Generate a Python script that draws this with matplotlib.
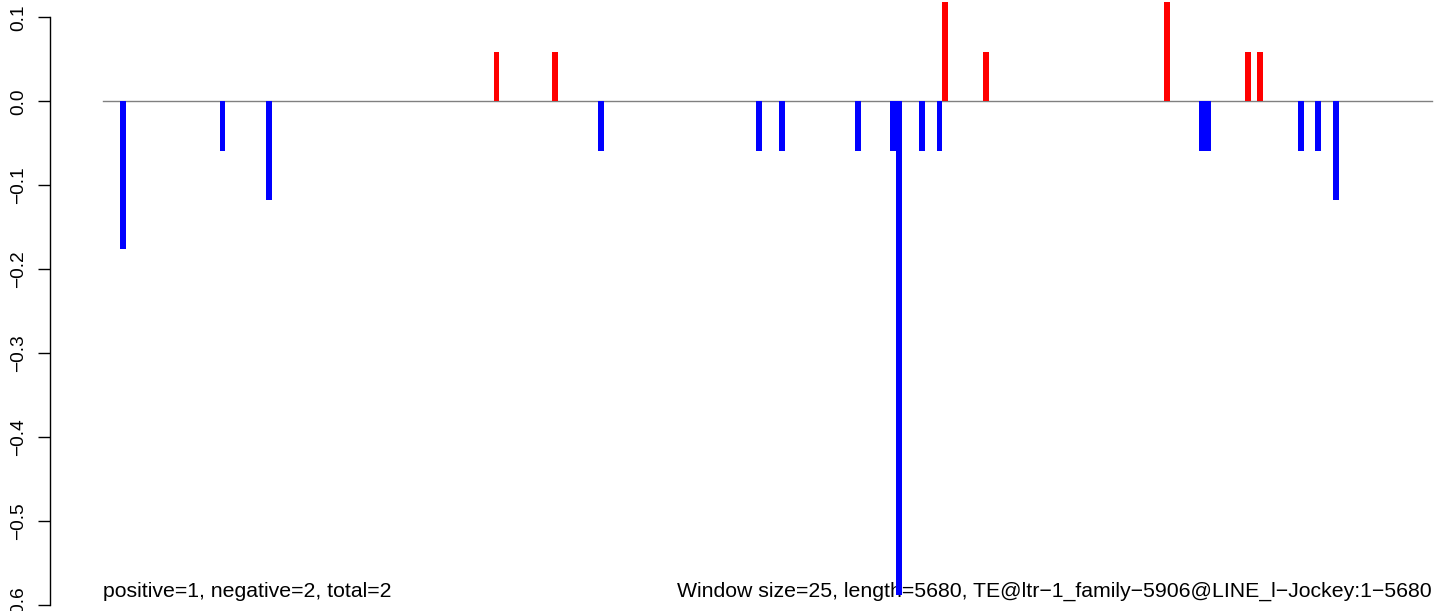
import numpy as np
import matplotlib.pyplot as plt

plt.rcParams['font.family'] = ['Liberation Sans', 'DejaVu Sans']

# 5680 bp in windows of 25 -> 228 windows
n_windows = 228
hit_windows = [3, 20, 28, 67, 77, 85, 112, 116, 129, 135, 136, 140,
               143, 144, 151, 182, 188, 189, 196, 198, 205, 208, 211]
hit_values = [-0.176, -0.059, -0.118, 0.059, 0.059, -0.059, -0.059, -0.059,
              -0.059, -0.059, -0.588, -0.059, -0.059, 0.118, 0.059, 0.118,
              -0.059, -0.059, 0.059, 0.059, -0.059, -0.059, -0.118]
y_ticks = [0.1, 0.0, -0.1, -0.2, -0.3, -0.4, -0.5, -0.6]
left_note = 'positive=1, negative=2, total=2'
right_note = 'Window size=25, length=5680, TE@ltr\u22121_family\u22125906@LINE_l\u2212Jockey:1\u22125680'

values = np.zeros(n_windows)
values[hit_windows] = hit_values
colors = ['red' if v > 0 else 'blue' for v in values]

W, H, dpi = 1444, 611, 100
fig = plt.figure(figsize=(W / dpi, H / dpi), dpi=dpi)
ax = fig.add_axes([50 / W, 0, 1 - 50 / W, 1])

pitch = 1329 / n_windows
ax.set_xlim(-53 / pitch, (W - 103) / pitch)
ax.set_ylim(-(611 - 101.4) / 839.3, 101.4 / 839.3)

ax.text(0, -0.5835, left_note, ha='left', va='center', fontsize=15.3, zorder=1)
ax.text(n_windows, -0.5835, right_note, ha='right', va='center', fontsize=15.3, zorder=1)

ax.plot([0, n_windows], [0, 0], color='gray', lw=1, zorder=2)
ax.bar(np.arange(n_windows), values, width=1, align='edge', color=colors,
       linewidth=0, zorder=3)

for s in ['top', 'right', 'bottom']:
    ax.spines[s].set_visible(False)
ax.spines['left'].set_bounds(-0.6, 0.1)
ax.spines['left'].set_linewidth(1.0)
ax.set_xticks([])
ax.set_yticks(y_ticks)
ax.set_yticklabels(['%.1f' % t if t >= 0 else '\u2212%.1f' % -t for t in y_ticks],
                   rotation=90, va='center', fontsize=13.8)
ax.tick_params(axis='y', length=8.6, width=1.0, pad=8)

fig.savefig('out.png', dpi=dpi)
